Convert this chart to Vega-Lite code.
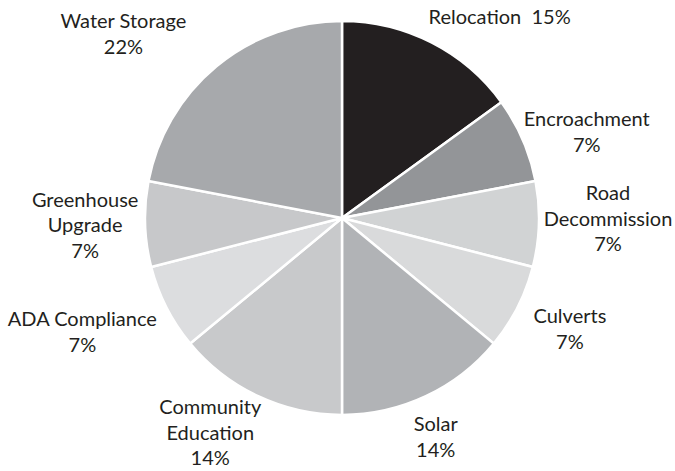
{
  "$schema": "https://vega.github.io/schema/vega-lite/v6.json",
  "autosize": "none",
  "width": 666,
  "height": 436,
  "padding": {"left": 9, "top": 0, "right": 0, "bottom": 35},
  "background": "#ffffff",
  "config": {"view": {"stroke": null}, "text": {"font": "Lato", "fontSize": 20, "color": "#231f20", "lineBreak": "\n", "lineHeight": 25.5}},
  "data": {
    "values": [
      {"cat": "Relocation", "pct": 15, "label": "Relocation \u00a015%"},
      {"cat": "Encroachment", "pct": 7, "label": "Encroachment\n7%"},
      {"cat": "Road Decommission", "pct": 7, "label": "Road\nDecommission\n7%"},
      {"cat": "Culverts", "pct": 7, "label": "Culverts\n7%"},
      {"cat": "Solar", "pct": 14, "label": "Solar\n14%"},
      {"cat": "Community Education", "pct": 14, "label": "Community\nEducation\n14%"},
      {"cat": "ADA Compliance", "pct": 7, "label": "ADA Compliance\n7%"},
      {"cat": "Greenhouse Upgrade", "pct": 7, "label": "Greenhouse\nUpgrade\n7%"},
      {"cat": "Water Storage", "pct": 22, "label": "Water Storage\n22%"}
    ]
  },
  "transform": [{"window": [{"op": "row_number", "as": "rn"}]}],
  "encoding": {
    "theta": {"field": "pct", "type": "quantitative", "stack": true},
    "order": {"field": "rn", "type": "quantitative"}
  },
  "layer": [
    {
      "mark": {"type": "arc", "outerRadius": 197, "stroke": "#ffffff", "strokeWidth": 2.5},
      "encoding": {
        "color": {
          "field": "cat", "type": "nominal", "legend": null,
          "scale": {
            "domain": ["Relocation", "Encroachment", "Road Decommission", "Culverts", "Solar", "Community Education", "ADA Compliance", "Greenhouse Upgrade", "Water Storage"],
            "range": ["#231f20", "#939598", "#d1d3d4", "#d9dadb", "#b1b3b6", "#c8c9cb", "#dcdddf", "#c7c8ca", "#a7a9ac"]
          }
        }
      }
    },
    {"mark": {"type": "text", "radius": 255, "thetaOffset": 0.195, "lineBreak": "\n", "lineHeight": 25.5},
     "encoding": {"text": {"condition": {"test": "datum.cat === 'Relocation'", "field": "label"}, "value": ""}}},
    {"mark": {"type": "text", "radius": 259, "thetaOffset": 0.075, "lineBreak": "\n", "lineHeight": 25.5, "dy": -12.75},
     "encoding": {"text": {"condition": {"test": "datum.cat === 'Encroachment'", "field": "label"}, "value": ""}}},
    {"mark": {"type": "text", "radius": 266, "thetaOffset": -0.024, "lineBreak": "\n", "lineHeight": 25.5, "dy": -25.5},
     "encoding": {"text": {"condition": {"test": "datum.cat === 'Road Decommission'", "field": "label"}, "value": ""}}},
    {"mark": {"type": "text", "radius": 254, "thetaOffset": -0.014, "lineBreak": "\n", "lineHeight": 25.5, "dy": -12.75},
     "encoding": {"text": {"condition": {"test": "datum.cat === 'Culverts'", "field": "label"}, "value": ""}}},
    {"mark": {"type": "text", "radius": 239, "thetaOffset": 0.037, "lineBreak": "\n", "lineHeight": 25.5, "dy": -12.75},
     "encoding": {"text": {"condition": {"test": "datum.cat === 'Solar'", "field": "label"}, "value": ""}}},
    {"mark": {"type": "text", "radius": 253, "thetaOffset": 0.108, "lineBreak": "\n", "lineHeight": 25.5, "dy": -25.5},
     "encoding": {"text": {"condition": {"test": "datum.cat === 'Community Education'", "field": "label"}, "value": ""}}},
    {"mark": {"type": "text", "radius": 284, "thetaOffset": 0.054, "lineBreak": "\n", "lineHeight": 25.5, "dy": -12.75},
     "encoding": {"text": {"condition": {"test": "datum.cat === 'ADA Compliance'", "field": "label"}, "value": ""}}},
    {"mark": {"type": "text", "radius": 257, "thetaOffset": 0.0, "lineBreak": "\n", "lineHeight": 25.5, "dy": -25.5},
     "encoding": {"text": {"condition": {"test": "datum.cat === 'Greenhouse Upgrade'", "field": "label"}, "value": ""}}},
    {"mark": {"type": "text", "radius": 285, "thetaOffset": -0.183, "lineBreak": "\n", "lineHeight": 25.5, "dy": -12.75},
     "encoding": {"text": {"condition": {"test": "datum.cat === 'Water Storage'", "field": "label"}, "value": ""}}}
  ]
}
